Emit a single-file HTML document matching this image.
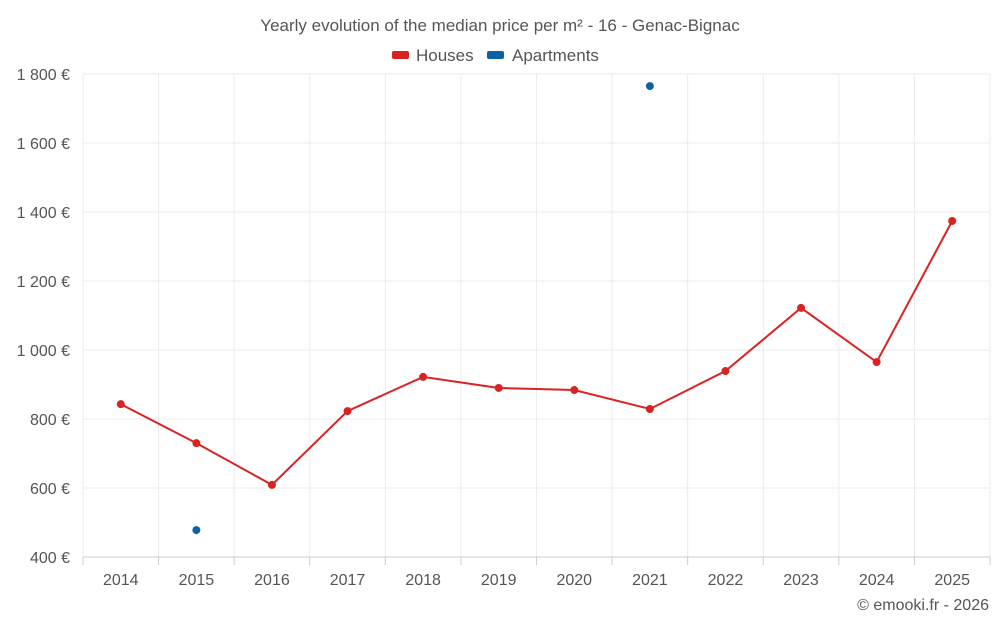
<!DOCTYPE html>
<html><head><meta charset="utf-8">
<style>
html,body{margin:0;padding:0;background:#fff;}
svg text{font-family:"Liberation Sans",sans-serif;}
</style></head>
<body>
<svg id="chart" width="1000" height="625" xmlns="http://www.w3.org/2000/svg">
<text x="500" y="31" text-anchor="middle" font-size="17" fill="#555">Yearly evolution of the median price per m² - 16 - Genac-Bignac</text>
<g>
<g><rect x="392" y="51" width="17" height="8" rx="2" fill="#d92323"/><text x="416" y="61" font-size="17" fill="#555">Houses</text></g>
<g><rect x="487" y="51" width="17" height="8" rx="2" fill="#0b62a4"/><text x="512" y="61" font-size="17" fill="#555">Apartments</text></g>
</g>
<g id="grid"></g><g id="axes"></g><g id="series"></g>
<text x="989" y="610" text-anchor="end" font-size="16" fill="#555">© emooki.fr - 2026</text>
</svg>
<script>
const years=[2014,2015,2016,2017,2018,2019,2020,2021,2022,2023,2024,2025];
const houses=[843,730,609,823,922,890,884,829,939,1122,965,1374];
const apartments=[null,478,null,null,null,null,null,1765,null,null,null,null];
const yTicks=[400,600,800,1000,1200,1400,1600,1800];
const L=83,R=990,T=74,B=557,yMin=400,yMax=1800;
const step=(R-L)/years.length;
const xs=i=>L+step*(i+0.5);
const ys=v=>B-(v-yMin)/(yMax-yMin)*(B-T);
const NS="http://www.w3.org/2000/svg";
function mk(tag,attrs,parent){const e=document.createElementNS(NS,tag);for(const k in attrs)e.setAttribute(k,attrs[k]);parent.appendChild(e);return e;}
const grid=document.getElementById('grid'),axes=document.getElementById('axes'),ser=document.getElementById('series');
yTicks.forEach(t=>{
 if(t!==yMin){const g=mk('line',{x1:L,x2:R,y1:ys(t),y2:ys(t),stroke:'#ebebeb'},grid);
 
 }
 const tx=mk('text',{x:70,y:ys(t)+6,'text-anchor':'end','font-size':16,fill:'#555'},axes);tx.textContent=t.toLocaleString('fr-FR').replace(/\s/g,' ')+' €';
 
 
});
for(let i=0;i<=years.length;i++){const x=L+step*i;
 const g=mk('line',{x1:x,x2:x,y1:T,y2:B,stroke:'#ebebeb'},grid);
 
 
 const tk=mk('line',{x1:x,x2:x,y1:B,y2:B+8,stroke:'#ccc'},axes);
 
 }
const ax=mk('line',{x1:L,x2:R,y1:B,y2:B,stroke:'#ccc'},axes);


years.forEach((y,i)=>{const t=mk('text',{x:xs(i),y:585,'text-anchor':'middle','font-size':16,fill:'#555'},axes);t.textContent=y;
 
 });
const line=mk('polyline',{points:houses.map((v,i)=>xs(i)+','+ys(v)).join(' '),fill:'none',stroke:'#d92323','stroke-width':2},ser);


houses.forEach((v,i)=>{const c=mk('circle',{cx:xs(i),cy:ys(v),r:4,fill:'#d92323'},ser);
 
 });
apartments.forEach((v,i)=>{if(v==null)return;const c=mk('circle',{cx:xs(i),cy:ys(v),r:4,fill:'#0b62a4'},ser);
 
 });
</script>
</body></html>
